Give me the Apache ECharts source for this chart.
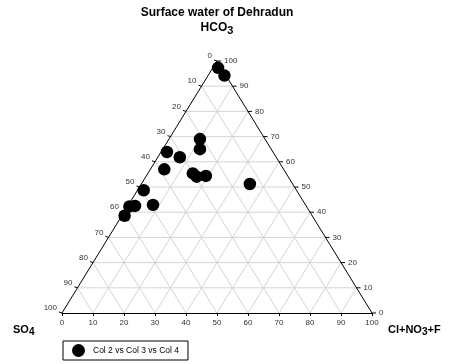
<!DOCTYPE html>
<html><head><meta charset="utf-8">
<script src="https://cdn.jsdelivr.net/npm/echarts@6/dist/echarts.min.js"></script>
<style>html,body{margin:0;padding:0;background:#fff}#c{width:453px;height:364px}</style>
</head><body><div id="c"></div>
<script>
// Ternary data (percent): HCO3 (apex), SO4 (bottom-left), Cl+NO3+F (bottom-right)
const hco3 = [97.3, 94.2, 69.0, 65.0, 63.9, 61.8, 57.0, 55.4, 54.1, 54.4, 51.2, 48.7, 42.9, 42.3, 42.5, 38.6];
const clno3f = [1.7, 5.3, 10.0, 12.0, 1.9, 7.1, 4.5, 14.5, 16.4, 19.2, 35.0, 2.0, 7.9, 0.6, 2.3, 0.9];
const so4 = [1.0, 0.5, 21.0, 23.0, 34.2, 31.1, 38.5, 30.1, 29.5, 26.4, 13.8, 49.3, 49.2, 57.1, 55.2, 60.5];
const bottomTicks = [0, 10, 20, 30, 40, 50, 60, 70, 80, 90, 100];
const leftTicks = [0, 10, 20, 30, 40, 50, 60, 70, 80, 90, 100];
const rightTicks = [100, 90, 80, 70, 60, 50, 40, 30, 20, 10, 0];
const seriesName = 'Col 2 vs Col 3 vs Col 4';

// ternary -> cartesian (x: 0..100 along base, y: 0..100 height)
function tern(a, b, c) { // a = HCO3, b = SO4, c = Cl
  const s = a + b + c;
  const A = a / s * 100, C = c / s * 100;
  return [C + A / 2, A];
}
const pts = hco3.map((v, i) => tern(v, so4[i], clno3f[i]));

const chart = echarts.init(document.getElementById('c'));
const tickFont = '8px "Liberation Sans", Arial, sans-serif';
function frame(params, api) {
  const ch = [];
  const P = (x, y) => api.coord([x, y]);
  const line = (p1, p2, color) => ({type: 'line', shape: {x1: p1[0], y1: p1[1], x2: p2[0], y2: p2[1]}, style: {stroke: color, lineWidth: 1}, silent: true});
  for (let k = 10; k < 100; k += 10) {
    ch.push(line(P(k / 2, k), P(100 - k / 2, k), '#d4d4d4'));
    ch.push(line(P(k, 0), P(k + (100 - k) / 2, 100 - k), '#d4d4d4'));
    ch.push(line(P(100 - k, 0), P((100 - k) / 2, 100 - k), '#d4d4d4'));
  }
  ch.push(line(P(0, 0), P(50, 100), '#000'));
  ch.push(line(P(100, 0), P(50, 100), '#000'));
  leftTicks.forEach(v => {
    const h = 100 - v;
    const p = P(h / 2, h);
    ch.push(line([p[0] - 3, p[1] - 1], p, '#000'));
    ch.push({type: 'text', silent: true, style: {text: String(v), x: p[0] - 5, y: p[1] - 5, textAlign: 'right', textVerticalAlign: 'middle', font: tickFont, fill: '#333'}});
  });
  rightTicks.forEach(v => {
    const p = P(100 - v / 2, v);
    ch.push(line(p, [p[0] + 4, p[1]], '#000'));
    ch.push({type: 'text', silent: true, style: {text: String(v), x: p[0] + 7, y: p[1], textAlign: 'left', textVerticalAlign: 'middle', font: tickFont, fill: '#333'}});
  });
  return {type: 'group', children: ch};
}

const subRich = (size) => ({
  b: {fontFamily: 'Liberation Sans', fontWeight: 'bold', fontSize: size, color: '#000'},
  s: {fontFamily: 'Liberation Sans', fontWeight: 'bold', fontSize: size - 1, color: '#000', padding: [5, 0, 0, 0]}
});

chart.setOption({
  animation: false,
  backgroundColor: '#fff',
  grid: {left: 62, right: 81, top: 61, bottom: 51},
  xAxis: {type: 'value', min: 0, max: 100, interval: 10,
    axisLine: {show: true, lineStyle: {color: '#000', width: 1}},
    axisTick: {show: true, length: 3, lineStyle: {color: '#000'}},
    axisLabel: {fontSize: 8, color: '#333', margin: 6, fontFamily: 'Liberation Sans'},
    splitLine: {show: false}},
  yAxis: {type: 'value', min: 0, max: 100, show: false},
  legend: {
    data: [{name: seriesName, icon: 'circle', itemStyle: {color: '#000', opacity: 1}}],
    left: 63, top: 341, orient: 'horizontal',
    borderColor: '#000', borderWidth: 1, borderRadius: 0,
    padding: [3, 9, 3, 9], itemWidth: 13, itemHeight: 13,
    textStyle: {fontSize: 8.5, color: '#000', fontFamily: 'Liberation Sans', padding: [0, 0, 0, 3]}
  },
  graphic: [
    {type: 'text', x: 217, y: 7, style: {text: 'Surface water of Dehradun', align: 'center', font: 'bold 12px "Liberation Sans"', fill: '#000'}},
    {type: 'text', x: 217, y: 20, style: {text: '{b|HCO}{s|3}', align: 'center', rich: subRich(12)}},
    {type: 'text', x: 13, y: 322, style: {text: '{b|SO}{s|4}', rich: subRich(11)}},
    {type: 'text', x: 388, y: 322, style: {text: '{b|Cl+NO}{s|3}{b|+F}', rich: subRich(11)}}
  ],
  series: [
    {type: 'custom', coordinateSystem: 'cartesian2d', data: [[50, 50]], renderItem: frame, clip: false, silent: true, z: 1, legendHoverLink: false},
    {type: 'scatter', name: seriesName, data: pts, symbol: 'circle', symbolSize: 12.5, itemStyle: {color: '#000', opacity: 1}, z: 5, clip: false}
  ]
});
</script></body></html>
